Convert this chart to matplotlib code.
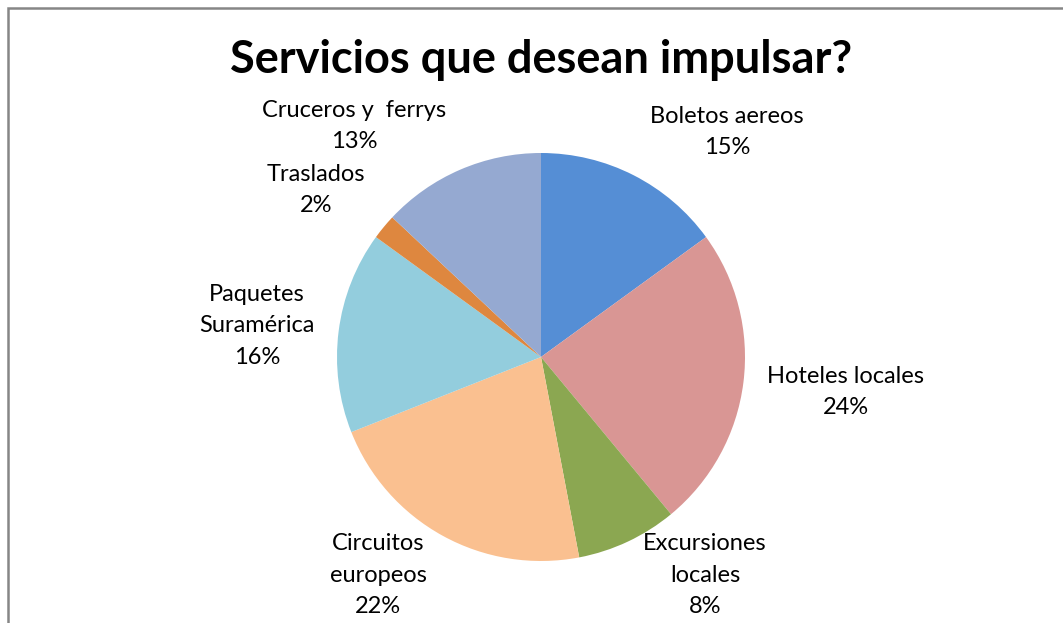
import matplotlib.pyplot as plt
from matplotlib.patches import Rectangle

# Datos del grafico
servicios = ["Boletos aereos", "Hoteles locales", "Excursiones\nlocales", "Circuitos\neuropeos",
             "Paquetes\nSuramérica", "Traslados", "Cruceros y  ferrys"]
porcentajes = [15, 24, 8, 22, 16, 2, 13]
colores = ["#558ED5", "#D99694", "#8BA751", "#FAC090", "#93CDDD", "#DE873F", "#95A9D1"]

# posicion (en pixeles) del centro de cada etiqueta
label_px = [(727, 132), (846, 392), (705, 575), (378, 575), (257, 326), (316, 190), (354, 126)]

W, H = 1063, 623
cx, cy, r = 541, 357, 204


def px2data(px, py):
    return (px - cx) / r, (cy - py) / r


plt.rcParams['font.family'] = ['Lato', 'DejaVu Sans']

fig = plt.figure(figsize=(W / 100, H / 100), dpi=100)
ax = fig.add_axes([0, 0, 1, 1])

ax.pie(porcentajes, colors=colores, startangle=90, counterclock=False,
       radius=1, center=(0, 0), wedgeprops=dict(linewidth=0))

for name, pct, (px, py) in zip(servicios, porcentajes, label_px):
    x, y = px2data(px, py)
    ax.text(x, y, f"{name}\n{pct}%", ha='center', va='center', fontsize=17,
            linespacing=1.62, color='black')

x0, y0 = px2data(0, H)
x1, y1 = px2data(W, 0)
ax.set_xlim(x0, x1)
ax.set_ylim(y0, y1)
ax.set_aspect('auto')
ax.axis('off')

# titulo
tx, ty = px2data(541, 60)
ax.text(tx, ty, "Servicios que desean impulsar?", ha='center', va='center',
        fontsize=32.5, fontweight='bold')

# borde del area del grafico
fig.patches.append(Rectangle((8 / W, -0.1), 1.2, (H - 8) / H + 0.1, transform=fig.transFigure,
                             fill=False, edgecolor='#868686', linewidth=1.8))

fig.savefig("out.png", dpi=100)
